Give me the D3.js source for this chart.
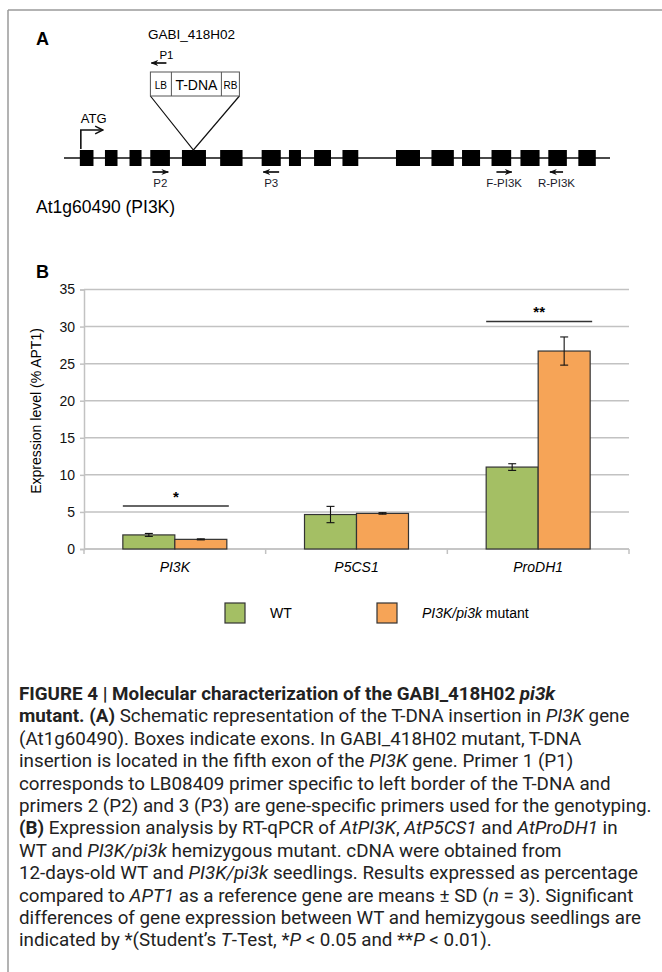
<!DOCTYPE html>
<html>
<head>
<meta charset="utf-8">
<script src="https://cdn.jsdelivr.net/npm/d3@7"></script>
<style>
  html, body { margin: 0; padding: 0; background: #fff; }
  svg { display: block; }
  text { font-family: "Liberation Sans", Arial, Helvetica, sans-serif; }
  .cap { font-family: "Liberation Sans Narrow", "Roboto", "Liberation Sans", sans-serif; white-space: pre; fill: #222; }
</style>
</head>
<body>
<svg id="fig" width="662" height="972"></svg>
<script>
// ---------- Panel B data: RT-qPCR expression (% APT1) ----------
const categories = ["PI3K", "P5CS1", "ProDH1"];
const seriesNames = ["WT", "PI3K/pi3k mutant"];
const wtMeans = [1.9, 4.65, 11.05];
const wtSD = [0.2, 1.1, 0.45];
const mutantMeans = [1.3, 4.8, 26.7];
const mutantSD = [0.07, 0.1, 1.9];
const yTicks = [0, 5, 10, 15, 20, 25, 30, 35];
const sigCategories = ["PI3K", "ProDH1"];
const sigLevels = [5.8, 30.7];
const sigLabels = ["*", "**"];
const seriesColors = ["#a4bf64", "#f6a457"];

// ---------- Panel A data: gene model of At1g60490 (relative units 0-100) ----------
const exonStarts = [2.9, 7.5, 12.0, 15.8, 21.6, 28.6, 36.2, 41.2, 45.8, 51.0, 60.8, 67.3, 72.9, 78.3, 83.6, 88.7, 94.2];
const exonEnds   = [5.4, 9.8, 14.2, 19.4, 26.0, 32.7, 39.7, 43.4, 48.9, 53.9, 65.2, 71.4, 76.2, 81.9, 87.1, 92.1, 97.4];
const primerNames = ["P2", "P3", "F-PI3K", "R-PI3K"];
const primerStarts = [16.2, 36.5, 79.2, 89.0];
const primerEnds = [19.1, 39.4, 82.0, 91.4];
const primerDirs = [1, -1, 1, -1];
const insertionPos = 23.7;
const atgPos = 2.9;

const svg = d3.select("#fig");

// frame
svg.append("line").attr("x1", 8).attr("y1", 10).attr("x2", 662).attr("y2", 10)
  .attr("stroke", "#9a9a9a").attr("stroke-width", 1.5);
svg.append("line").attr("x1", 8).attr("y1", 10).attr("x2", 8).attr("y2", 972)
  .attr("stroke", "#9a9a9a").attr("stroke-width", 1.5);

// arrow markers
const defs = svg.append("defs");
defs.append("marker").attr("id", "chev").attr("viewBox", "0 0 10 10")
  .attr("refX", 9).attr("refY", 5).attr("markerWidth", 6).attr("markerHeight", 6)
  .attr("markerUnits", "strokeWidth").attr("orient", "auto")
  .append("path").attr("d", "M1,1 L9,5 L1,9").attr("fill", "none").attr("stroke", "#111").attr("stroke-width", 1.6);
defs.append("marker").attr("id", "tri").attr("viewBox", "0 0 10 10")
  .attr("refX", 9).attr("refY", 5).attr("markerWidth", 4.5).attr("markerHeight", 4.5)
  .attr("markerUnits", "strokeWidth").attr("orient", "auto")
  .append("path").attr("d", "M0,1 L10,5 L0,9 L3,5 Z").attr("fill", "#111");

// ================= Panel A =================
const gA = svg.append("g");
gA.append("text").attr("x", 36).attr("y", 45).attr("font-size", 18).attr("font-weight", "bold").text("A");

const gx = d3.scaleLinear().domain([0, 100]).range([64, 610]);
const geneY = 158;
const exonH = 16;

gA.append("line").attr("x1", gx(0)).attr("x2", gx(100)).attr("y1", geneY).attr("y2", geneY)
  .attr("stroke", "#4a4a4a").attr("stroke-width", 2);

gA.selectAll("rect.exon").data(exonStarts).join("rect").attr("class", "exon")
  .attr("x", d => gx(d)).attr("width", (d, i) => gx(exonEnds[i]) - gx(d))
  .attr("y", geneY - exonH / 2).attr("height", exonH).attr("fill", "#000");

// ATG start arrow
const ax = gx(atgPos) + 1;
gA.append("path").attr("d", `M${ax},${geneY - 9} V130 H${ax + 22}`)
  .attr("fill", "none").attr("stroke", "#111").attr("stroke-width", 1.6).attr("marker-end", "url(#chev)");
gA.append("text").attr("x", ax).attr("y", 123).attr("font-size", 13).text("ATG");

// primers below the gene
const primerArrowY = 172;
primerNames.forEach((name, i) => {
  const a = primerDirs[i] > 0 ? gx(primerStarts[i]) : gx(primerEnds[i]);
  const b = primerDirs[i] > 0 ? gx(primerEnds[i]) : gx(primerStarts[i]);
  gA.append("line").attr("x1", a).attr("x2", b).attr("y1", primerArrowY).attr("y2", primerArrowY)
    .attr("stroke", "#111").attr("stroke-width", 1.7).attr("marker-end", "url(#tri)");
  gA.append("text").attr("x", (gx(primerStarts[i]) + gx(primerEnds[i])) / 2).attr("y", 187)
    .attr("text-anchor", "middle").attr("font-size", 11.5).attr("fill", "#1a1a2a").text(name);
});

// T-DNA insertion
const ix = gx(insertionPos);
const boxX0 = ix - 43, boxX1 = ix + 46, boxY0 = 72, boxY1 = 96;
gA.append("path").attr("d", `M${boxX0},${boxY1} L${ix},${geneY - exonH / 2} L${boxX1},${boxY1}`)
  .attr("fill", "none").attr("stroke", "#111").attr("stroke-width", 1.2);
gA.append("rect").attr("x", boxX0).attr("y", boxY0).attr("width", boxX1 - boxX0).attr("height", boxY1 - boxY0)
  .attr("fill", "#fff").attr("stroke", "#555").attr("stroke-width", 1);
[boxX0 + 21, boxX1 - 18].forEach(x => gA.append("line").attr("x1", x).attr("x2", x)
  .attr("y1", boxY0).attr("y2", boxY1).attr("stroke", "#555").attr("stroke-width", 1));
gA.append("text").attr("x", boxX0 + 10.5).attr("y", 89).attr("text-anchor", "middle").attr("font-size", 10).text("LB");
gA.append("text").attr("x", (boxX0 + 21 + boxX1 - 18) / 2).attr("y", 90).attr("text-anchor", "middle").attr("font-size", 14).text("T-DNA");
gA.append("text").attr("x", boxX1 - 9).attr("y", 89).attr("text-anchor", "middle").attr("font-size", 10).text("RB");
gA.append("line").attr("x1", boxX0 + 16).attr("x2", boxX0 + 1).attr("y1", 63).attr("y2", 63)
  .attr("stroke", "#111").attr("stroke-width", 1.7).attr("marker-end", "url(#tri)");
gA.append("text").attr("x", boxX0 + 9).attr("y", 59).attr("font-size", 11.5).text("P1");
gA.append("text").attr("x", 148).attr("y", 39).attr("font-size", 13.5).text("GABI_418H02");
gA.append("text").attr("x", 36).attr("y", 213).attr("font-size", 17.5).text("At1g60490 (PI3K)");

// ================= Panel B =================
const gB = svg.append("g");
gB.append("text").attr("x", 36).attr("y", 278).attr("font-size", 18).attr("font-weight", "bold").text("B");

const y = d3.scaleLinear().domain([0, 35]).range([549, 289.5]);
const x = d3.scaleBand().domain(categories).range([84, 629]).paddingInner(0).paddingOuter(0);
const xs = d3.scaleBand().domain(seriesNames).range([0, x.bandwidth()]).paddingInner(0).paddingOuter(0.747);

// gridlines
gB.append("g").selectAll("line").data(yTicks).join("line")
  .attr("x1", 84).attr("x2", 629).attr("y1", d => y(d)).attr("y2", d => y(d))
  .attr("stroke", "#c2c2c2").attr("stroke-width", 1.5);

// y axis
const yAxis = gB.append("g").attr("transform", "translate(84,0)")
  .call(d3.axisLeft(y).tickValues(yTicks).tickSize(4).tickPadding(5));
yAxis.select(".domain").attr("stroke", "#c2c2c2").attr("stroke-width", 1.5);
yAxis.selectAll(".tick line").attr("stroke", "#c2c2c2").attr("stroke-width", 1.5);
yAxis.selectAll(".tick text").attr("font-size", 14).attr("fill", "#111")
  .attr("font-family", "'Liberation Sans', Arial, sans-serif");

// x axis (category boundaries)
const xAxis = gB.append("g").attr("transform", `translate(0,${y(0)})`);
xAxis.append("line").attr("x1", 84).attr("x2", 629).attr("stroke", "#c2c2c2").attr("stroke-width", 1.5);
const bounds = categories.map(c => x(c)).concat([x(categories[categories.length - 1]) + x.bandwidth()]);
xAxis.selectAll("line.b").data(bounds).join("line").attr("class", "b")
  .attr("x1", d => d).attr("x2", d => d).attr("y1", 0).attr("y2", 5)
  .attr("stroke", "#c2c2c2").attr("stroke-width", 1.5);
xAxis.selectAll("text").data(categories).join("text")
  .attr("x", d => x(d) + x.bandwidth() / 2).attr("y", 23)
  .attr("text-anchor", "middle").attr("font-size", 14).attr("font-style", "italic").text(d => d);

// y axis title
gB.append("text").attr("transform", "translate(41,411) rotate(-90)")
  .attr("text-anchor", "middle").attr("font-size", 14).text("Expression level (% APT1)");

// bars + error bars
const seriesMeans = [wtMeans, mutantMeans];
const seriesSD = [wtSD, mutantSD];
seriesNames.forEach((s, si) => {
  const g = gB.append("g");
  categories.forEach((c, ci) => {
    const bx = x(c) + xs(s);
    const v = seriesMeans[si][ci];
    g.append("rect").attr("x", bx).attr("width", xs.bandwidth())
      .attr("y", y(v)).attr("height", y(0) - y(v))
      .attr("fill", seriesColors[si]).attr("stroke", "#333").attr("stroke-width", 1.2);
    const cx = bx + xs.bandwidth() / 2;
    const hi = y(v + seriesSD[si][ci]), lo = y(v - seriesSD[si][ci]);
    g.append("line").attr("x1", cx).attr("x2", cx).attr("y1", hi).attr("y2", lo).attr("stroke", "#111").attr("stroke-width", 1.1);
    [hi, lo].forEach(yy => g.append("line").attr("x1", cx - 4).attr("x2", cx + 4).attr("y1", yy).attr("y2", yy)
      .attr("stroke", "#111").attr("stroke-width", 1.1));
  });
});

// significance brackets
sigCategories.forEach((c, i) => {
  const x0 = x(c) + xs(seriesNames[0]);
  const x1 = x(c) + xs(seriesNames[1]) + xs.bandwidth() + 2;
  gB.append("line").attr("x1", x0).attr("x2", x1).attr("y1", y(sigLevels[i])).attr("y2", y(sigLevels[i]))
    .attr("stroke", "#333").attr("stroke-width", 1.5);
  gB.append("text").attr("x", (x0 + x1) / 2).attr("y", y(sigLevels[i]) - 4)
    .attr("text-anchor", "middle").attr("font-size", 15).attr("font-weight", "bold").text(sigLabels[i]);
});

// legend
const legendX = [225, 377];
const legendTextX = [270, 422];
seriesNames.forEach((s, i) => {
  gB.append("rect").attr("x", legendX[i]).attr("y", 603).attr("width", 20).attr("height", 20)
    .attr("fill", seriesColors[i]).attr("stroke", "#333").attr("stroke-width", 1.2);
});
gB.append("text").attr("x", legendTextX[0]).attr("y", 618).attr("font-size", 14).text("WT");
const lt = gB.append("text").attr("x", legendTextX[1]).attr("y", 618).attr("font-size", 14).style("white-space", "pre");
lt.append("tspan").attr("font-style", "italic").text("PI3K/pi3k");
lt.append("tspan").text(" mutant");

// ================= Caption =================
const captionLines = [
  [["FIGURE 4 | Molecular characterization of the GABI_418H02 ", "b"], ["pi3k", "bi"]],
  [["mutant. (A)", "b"], [" Schematic representation of the T-DNA insertion in ", ""], ["PI3K", "i"], [" gene", ""]],
  [["(At1g60490). Boxes indicate exons. In GABI_418H02 mutant, T-DNA", ""]],
  [["insertion is located in the fifth exon of the ", ""], ["PI3K", "i"], [" gene. Primer 1 (P1)", ""]],
  [["corresponds to LB08409 primer specific to left border of the T-DNA and", ""]],
  [["primers 2 (P2) and 3 (P3) are gene-specific primers used for the genotyping.", ""]],
  [["(B)", "b"], [" Expression analysis by RT-qPCR of ", ""], ["AtPI3K", "i"], [", ", ""], ["AtP5CS1", "i"], [" and ", ""], ["AtProDH1", "i"], [" in", ""]],
  [["WT and ", ""], ["PI3K/pi3k", "i"], [" hemizygous mutant. cDNA were obtained from", ""]],
  [["12-days-old WT and ", ""], ["PI3K/pi3k", "i"], [" seedlings. Results expressed as percentage", ""]],
  [["compared to ", ""], ["APT1", "i"], [" as a reference gene are means ± SD (", ""], ["n", "i"], [" = 3). Significant", ""]],
  [["differences of gene expression between WT and hemizygous seedlings are", ""]],
  [["indicated by *(Student’s ", ""], ["T", "i"], ["-Test, *", ""], ["P", "i"], [" < 0.05 and **", ""], ["P", "i"], [" < 0.01).", ""]]
];
const capX = 19, capY0 = 700, capStep = 22.4, capWidthRef = 633, capRefLine = 5;
const capNodes = captionLines.map((segs, li) => {
  const t = svg.append("text").attr("class", "cap").attr("font-size", 18)
    .attr("transform", `translate(${capX},${capY0 + li * capStep})`);
  segs.forEach(([txt, st]) => {
    const ts = t.append("tspan").text(txt);
    if (st.includes("b")) ts.attr("font-weight", "bold");
    if (st.includes("i")) ts.attr("font-style", "italic");
  });
  return t;
});
const sx = capWidthRef / capNodes[capRefLine].node().getComputedTextLength();
capNodes.forEach((t, li) => t.attr("transform", `translate(${capX},${capY0 + li * capStep}) scale(${sx},1)`));
</script>
</body>
</html>
